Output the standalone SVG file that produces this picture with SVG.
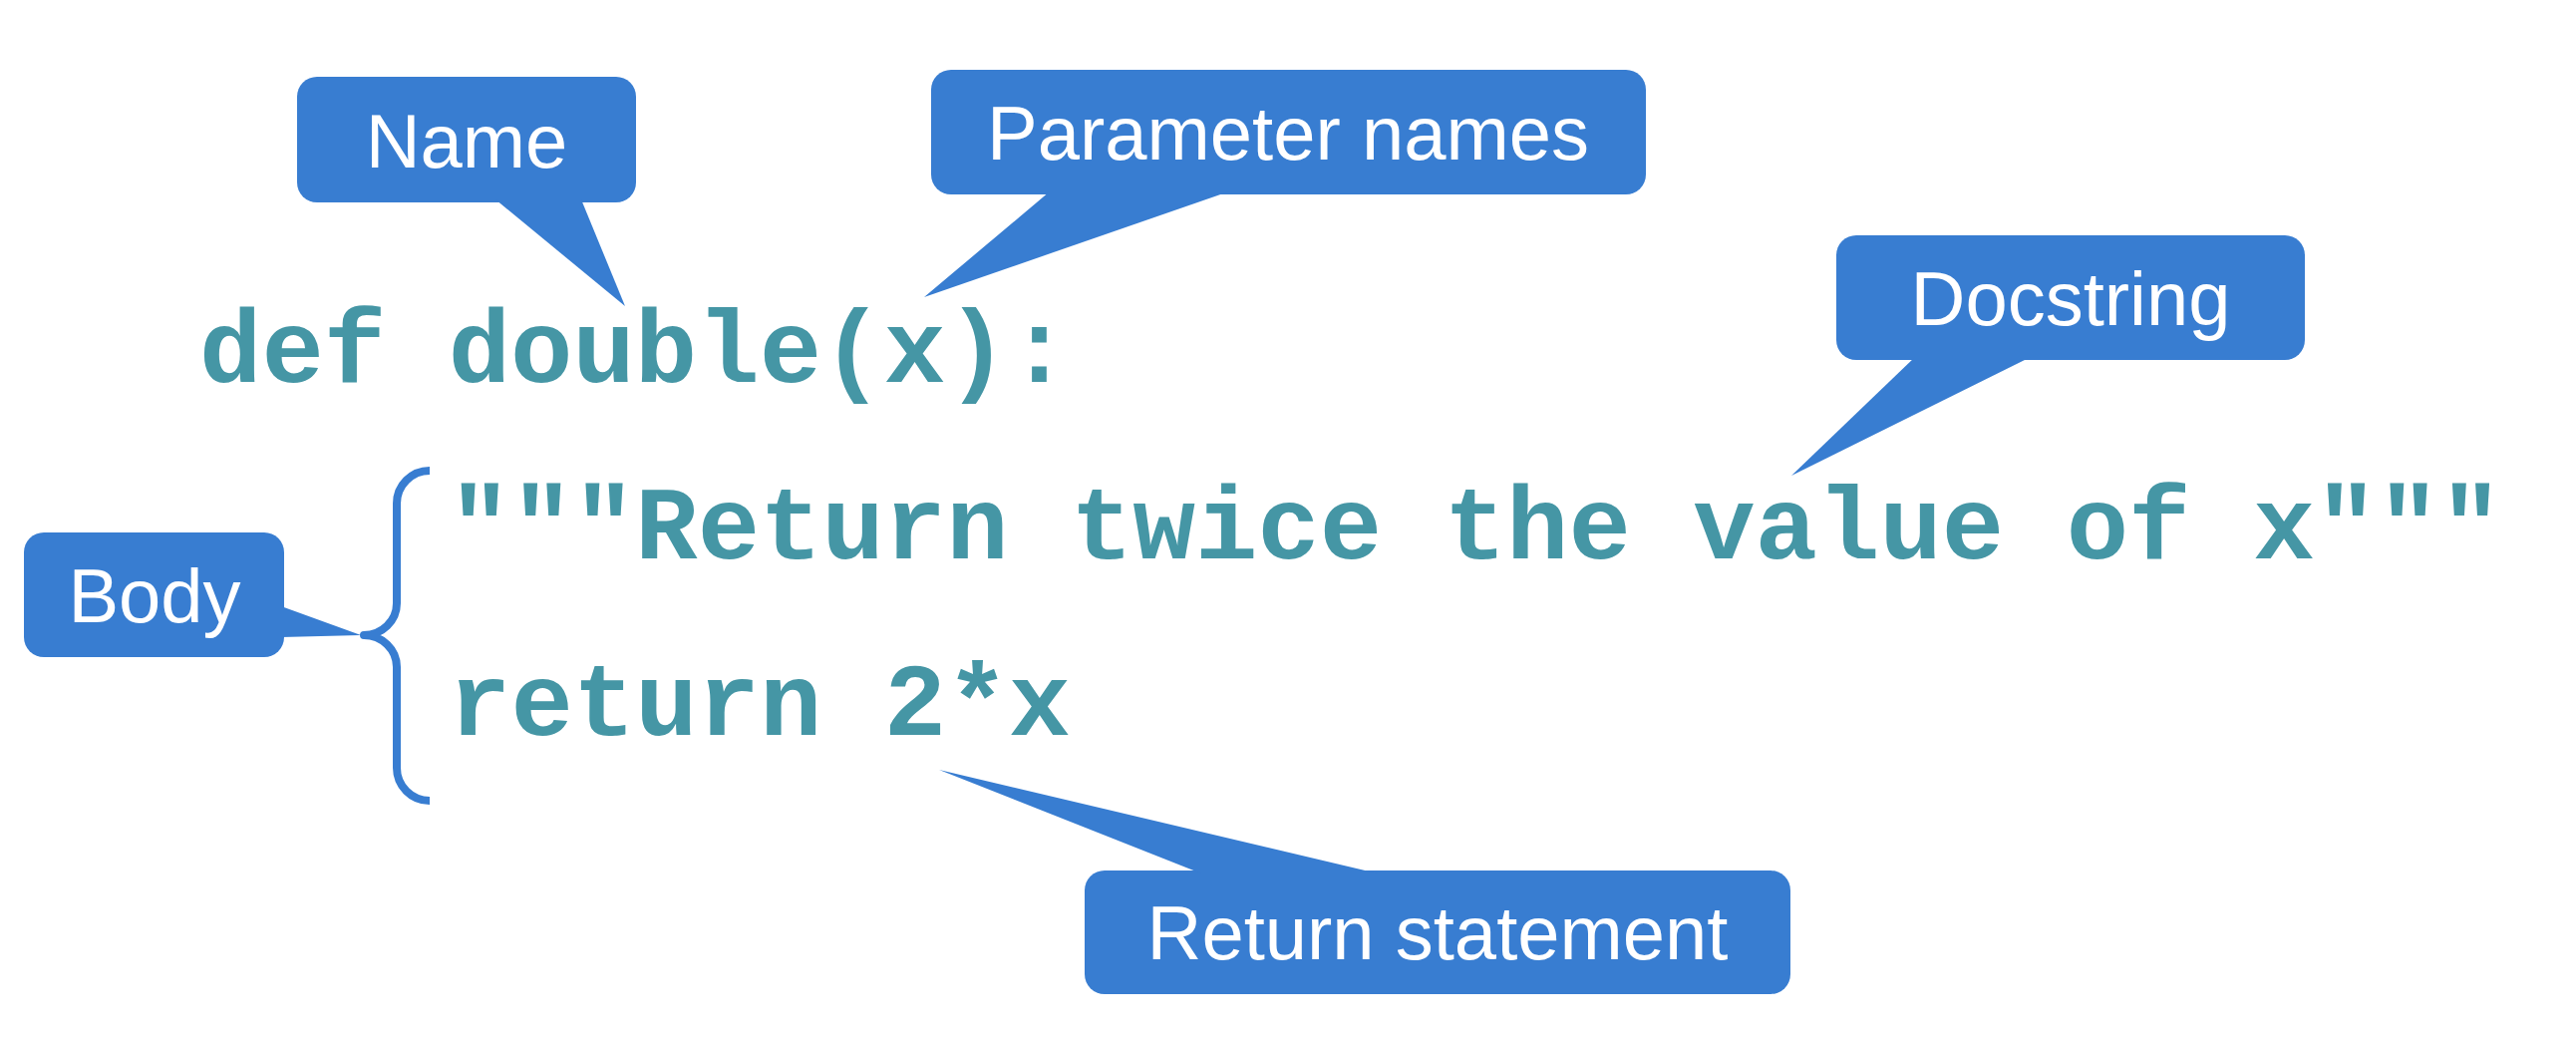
<svg xmlns="http://www.w3.org/2000/svg" width="2584" height="1046" viewBox="0 0 2584 1046">
  <style>
    .box { fill: #387dd1; }
    .label { font-family: "Liberation Sans", Arial, sans-serif; font-size: 76px; fill: #ffffff; text-anchor: middle; }
    .code { font-family: "Courier New", "Liberation Mono", monospace; font-weight: bold; font-size: 104px; fill: #4596a5; }
    .brace { fill: none; stroke: #387dd1; stroke-width: 8; stroke-linecap: butt; stroke-linejoin: round; }
  </style>
  <rect width="2584" height="1046" fill="#ffffff"/>

  <!-- source code -->
  <g id="code">
    <text class="code" x="200" y="383">def double(x):</text>
    <text class="code" x="450" y="560">"""Return twice the value of x"""</text>
    <text class="code" x="450" y="737">return 2*x</text>
  </g>

  <!-- brace grouping the function body -->
  <g id="connectors">
    <path class="brace" d="M431,472 A33,33 0 0 0 398,505 L398,605 A33,32 0 0 1 365,637 A33,32 0 0 1 398,669 L398,770 A33,33 0 0 0 431,803"/>
  </g>

  <!-- callouts -->
  <g id="name">
    <rect class="box" x="298" y="77" width="340" height="126" rx="20"/>
    <polygon class="box" points="497,200 583,200 627,307"/>
    <text class="label" x="468" y="168">Name</text>
  </g>

  <g id="parameters">
    <rect class="box" x="934" y="70" width="717" height="125" rx="20"/>
    <polygon class="box" points="1053,192 1233,192 927,298"/>
    <text class="label" x="1292" y="160">Parameter names</text>
  </g>

  <g id="docstring">
    <rect class="box" x="1842" y="236" width="470" height="125" rx="20"/>
    <polygon class="box" points="1921,358 2037,358 1797,477"/>
    <text class="label" x="2077" y="326">Docstring</text>
  </g>

  <g id="body">
    <rect class="box" x="24" y="534" width="261" height="125" rx="20"/>
    <polygon class="box" points="282,608 282,639 362,637"/>
    <text class="label" x="155" y="624">Body</text>
  </g>

  <g id="return">
    <rect class="box" x="1088" y="873" width="708" height="124" rx="20"/>
    <polygon class="box" points="1205,876 1382,876 942,772"/>
    <text class="label" x="1442" y="962">Return statement</text>
  </g>
</svg>
